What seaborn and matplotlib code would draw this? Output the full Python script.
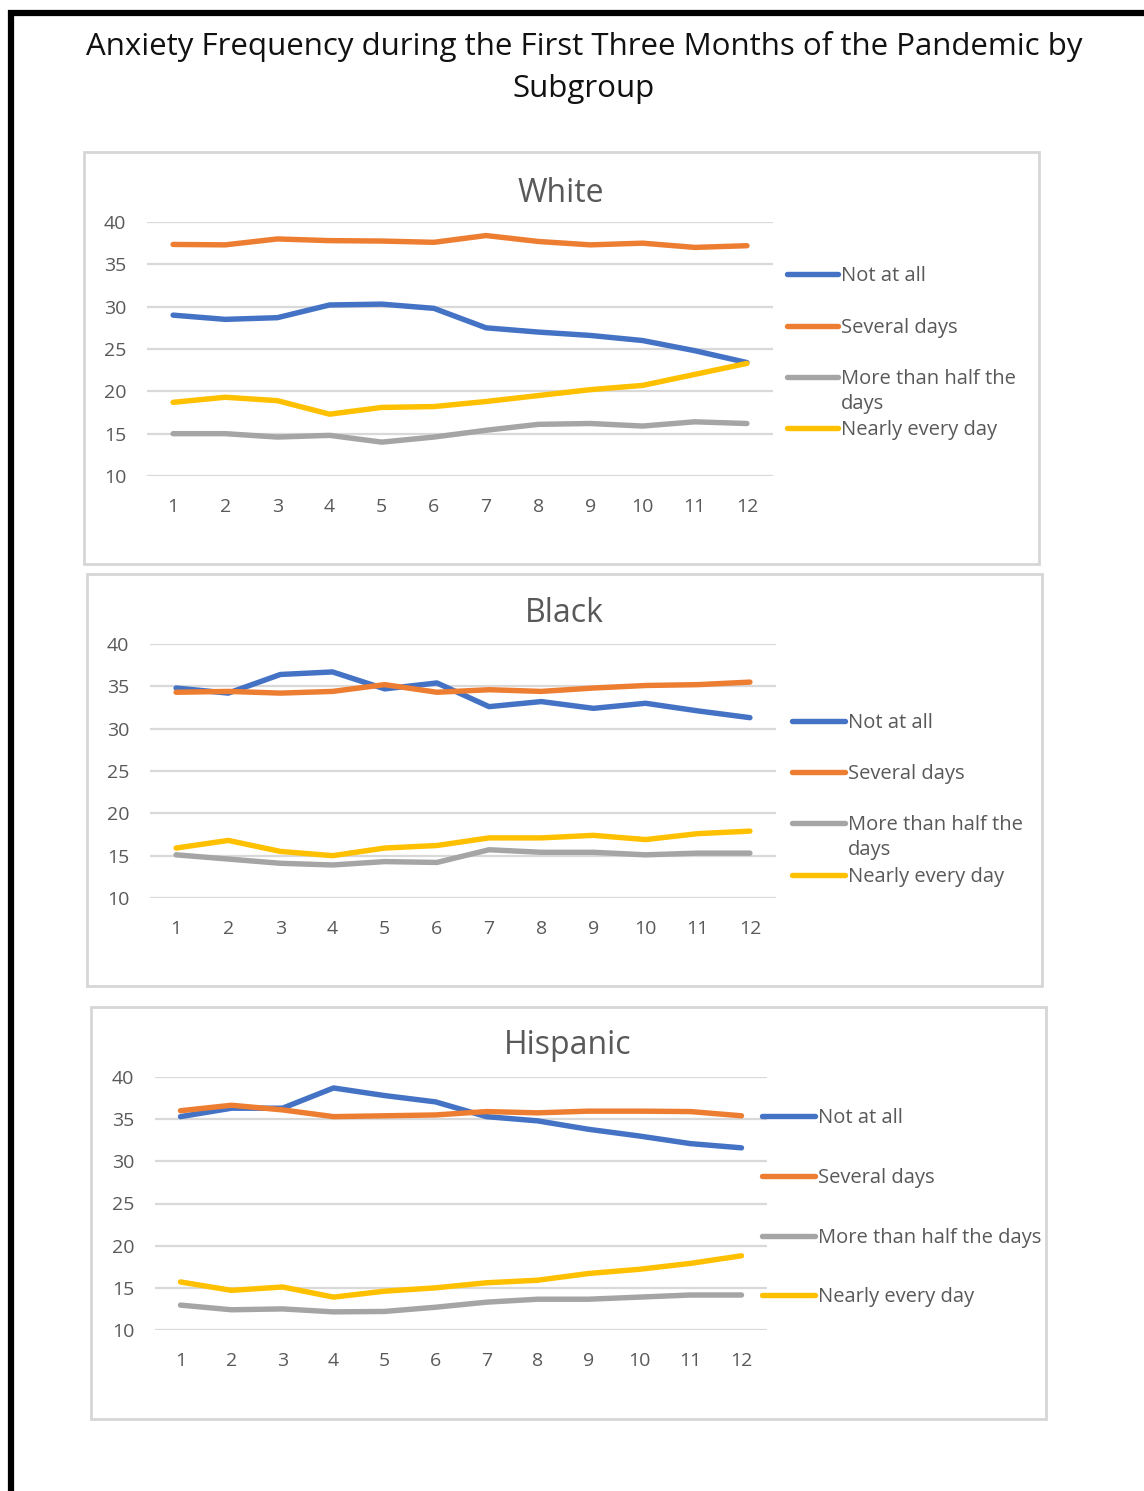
import numpy as np
import pandas as pd
import matplotlib
matplotlib.use("Agg")
import matplotlib.pyplot as plt
from matplotlib.patches import Rectangle
from matplotlib.lines import Line2D
import seaborn as sns

sns.set_theme(style="white")
plt.rcParams["font.family"] = ["Open Sans", "DejaVu Sans"]

# ---- data -------------------------------------------------------------
weeks = list(range(1, 13))
categories = ["Not at all", "Several days", "More than half the days", "Nearly every day"]
colors = ["#4472C4", "#ED7D31", "#A5A5A5", "#FFC000"]

white_not_at_all = [29.0, 28.5, 28.7, 30.2, 30.3, 29.8, 27.5, 27.0, 26.6, 26.0, 24.8, 23.4]
white_several = [37.35, 37.3, 38.0, 37.8, 37.75, 37.6, 38.4, 37.7, 37.3, 37.5, 37.0, 37.2]
white_more_half = [15.0, 15.0, 14.6, 14.8, 14.0, 14.6, 15.4, 16.1, 16.2, 15.9, 16.4, 16.2]
white_nearly = [18.7, 19.3, 18.9, 17.3, 18.1, 18.2, 18.8, 19.5, 20.2, 20.7, 22.0, 23.3]

black_not_at_all = [34.8, 34.2, 36.4, 36.7, 34.7, 35.4, 32.6, 33.2, 32.4, 33.0, 32.1, 31.3]
black_several = [34.3, 34.4, 34.2, 34.4, 35.2, 34.3, 34.6, 34.4, 34.8, 35.1, 35.2, 35.5]
black_more_half = [15.1, 14.6, 14.1, 13.9, 14.3, 14.2, 15.7, 15.4, 15.4, 15.1, 15.3, 15.3]
black_nearly = [15.9, 16.8, 15.5, 15.0, 15.9, 16.2, 17.1, 17.1, 17.4, 16.9, 17.6, 17.9]

hisp_not_at_all = [35.3, 36.3, 36.3, 38.7, 37.8, 37.05, 35.3, 34.8, 33.8, 33.0, 32.1, 31.6]
hisp_several = [36.0, 36.65, 36.1, 35.3, 35.4, 35.5, 35.9, 35.75, 35.95, 35.95, 35.9, 35.4]
hisp_more_half = [12.95, 12.4, 12.5, 12.15, 12.2, 12.7, 13.3, 13.65, 13.65, 13.9, 14.15, 14.15]
hisp_nearly = [15.7, 14.7, 15.1, 13.9, 14.6, 15.0, 15.6, 15.9, 16.7, 17.2, 17.9, 18.8]

groups = ["White", "Black", "Hispanic"]
series = {
    "White": [white_not_at_all, white_several, white_more_half, white_nearly],
    "Black": [black_not_at_all, black_several, black_more_half, black_nearly],
    "Hispanic": [hisp_not_at_all, hisp_several, hisp_more_half, hisp_nearly],
}

# ---- layout (pixel coordinates on a 1144 x 1491 canvas) ----------------
W, H = 1144, 1491
fig = plt.figure(figsize=(W / 100, H / 100), dpi=100)


def fx(px):
    return px / W


def fy(py):
    return 1 - py / H


# outer black frame (top and left edges)
fig.add_artist(Line2D([fx(8), fx(1144)], [fy(13), fy(13)], color="black", lw=4.5,
                      transform=fig.transFigure, solid_capstyle="butt"))
fig.add_artist(Line2D([fx(11), fx(11)], [fy(10), fy(1491)], color="black", lw=4.5,
                      transform=fig.transFigure, solid_capstyle="butt"))

fig.text(fx(584), fy(46), "Anxiety Frequency during the First Three Months of the Pandemic by",
         ha="center", va="center", fontsize=22.5, color="#111111")
fig.text(fx(584), fy(89), "Subgroup", ha="center", va="center", fontsize=22.5, color="#111111")

panels = {
    # box (x0, y0, x1, y1), plot area (x0, x1, y_top, y_bottom), title pos, legend spec
    "White": dict(box=(84, 152, 1039, 564), area=(147, 773, 222, 476), title=(561, 193),
                  leg_x=(787, 838), leg_y=[274, 326, 377, 428], wrap=True),
    "Black": dict(box=(87, 574, 1042, 986), area=(150, 776, 644, 898), title=(564, 614),
                  leg_x=(792, 845), leg_y=[721, 772, 823, 875], wrap=True),
    "Hispanic": dict(box=(91, 1007, 1046, 1419), area=(155, 767, 1077, 1330), title=(568, 1046),
                     leg_x=(762, 815), leg_y=[1116, 1176, 1236, 1295], wrap=False),
}

text_gray = "#595959"
grid_gray = "#D9D9D9"
leg_fs = 14.5

for g in groups:
    p = panels[g]
    bx0, by0, bx1, by1 = p["box"]
    fig.add_artist(Rectangle((fx(bx0), fy(by1)), fx(bx1) - fx(bx0), fy(by0) - fy(by1),
                             transform=fig.transFigure, fill=False,
                             edgecolor="#D6D6D6", lw=2.0))

    ax0, ax1, ay0, ay1 = p["area"]
    ax = fig.add_axes([fx(ax0), fy(ay1), fx(ax1) - fx(ax0), fy(ay0) - fy(ay1)])

    df = pd.DataFrame({
        "week": np.tile(weeks, len(categories)),
        "pct": np.concatenate(series[g]),
        "freq": np.repeat(categories, len(weeks)),
    })
    sns.lineplot(data=df, x="week", y="pct", hue="freq", hue_order=categories,
                 palette=colors, lw=3.9, legend=False, ax=ax, zorder=3)

    ax.set_xlim(0.5, 12.5)
    ax.set_ylim(10, 40)
    ax.set_yticks(range(10, 41, 5))
    ax.set_xticks(weeks)
    ax.set_xlabel("")
    ax.set_ylabel("")
    ax.set_facecolor("none")
    for s in ax.spines.values():
        s.set_visible(False)
    ax.grid(axis="y", color=grid_gray, lw=1.6)
    ax.grid(axis="x", visible=False)
    ax.tick_params(axis="y", length=0, pad=15, labelsize=14, labelcolor=text_gray)
    ax.tick_params(axis="x", length=0, pad=15.5, labelsize=14, labelcolor=text_gray)

    fig.text(fx(p["title"][0]), fy(p["title"][1]), g, ha="center", va="center",
             fontsize=23, color=text_gray)

    lx0, lx1 = p["leg_x"]
    for cat, col, ly in zip(categories, colors, p["leg_y"]):
        fig.add_artist(Line2D([fx(lx0), fx(lx1)], [fy(ly), fy(ly)], color=col, lw=3.9,
                              transform=fig.transFigure))
        ty = ly + 2
        if p["wrap"] and cat == "More than half the days":
            fig.text(fx(lx1 + 3), fy(ty), "More than half the", ha="left", va="center",
                     fontsize=leg_fs, color=text_gray)
            fig.text(fx(lx1 + 3), fy(ty + 25), "days", ha="left", va="center",
                     fontsize=leg_fs, color=text_gray)
        else:
            fig.text(fx(lx1 + 3), fy(ty), cat, ha="left", va="center",
                     fontsize=leg_fs, color=text_gray)

fig.savefig("out.png", dpi=100, facecolor="white")
